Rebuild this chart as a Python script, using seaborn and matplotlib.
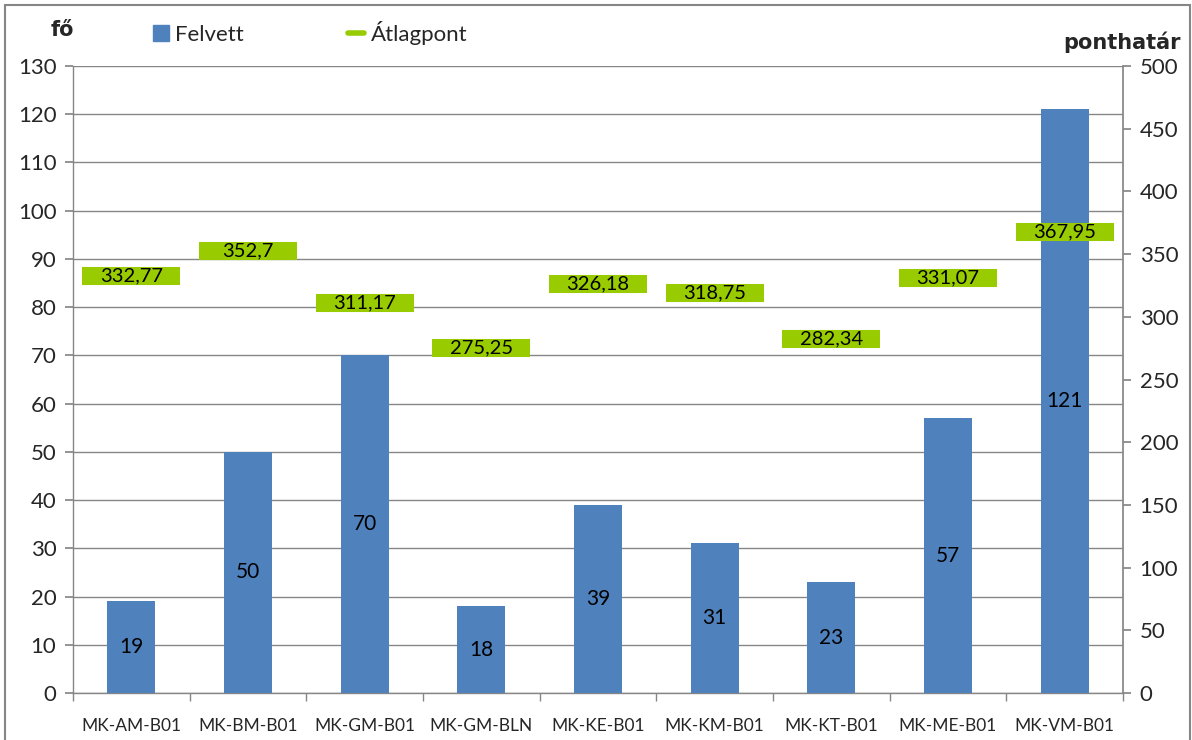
import numpy as np
import pandas as pd
import matplotlib
matplotlib.use("Agg")
import matplotlib.pyplot as plt
import seaborn as sns
from matplotlib.patches import Rectangle
from matplotlib.lines import Line2D
from matplotlib.patches import Patch

categories = ["MK-AM-B01", "MK-BM-B01", "MK-GM-B01", "MK-GM-BLN", "MK-KE-B01",
              "MK-KM-B01", "MK-KT-B01", "MK-ME-B01", "MK-VM-B01"]
felvett = [19, 50, 70, 18, 39, 31, 23, 57, 121]
atlagpont = [332.77, 352.7, 311.17, 275.25, 326.18, 318.75, 282.34, 331.07, 367.95]
atlag_labels = ["332,77", "352,7", "311,17", "275,25", "326,18", "318,75", "282,34", "331,07", "367,95"]
left_ticks = list(range(0, 131, 10))
right_ticks = list(range(0, 501, 50))

sns.set_theme(style="white")
plt.rcParams['font.family'] = ['Lato', 'DejaVu Sans']

BLUE = "#4F81BD"
GREEN = "#99CC00"
GRAY = "#868686"

fig = plt.figure(figsize=(11.92, 7.40), dpi=100)
ax = fig.add_axes([73/1192, 47/740, (1123-73)/1192, (693-66)/740])

df = pd.DataFrame({"cat": categories, "felvett": felvett})
sns.barplot(data=df, x="cat", y="felvett", color=BLUE, width=0.41, saturation=1,
            linewidth=0, ax=ax, zorder=3)
ax.set_xlim(-0.5, len(categories) - 0.5)
ax.set_ylim(0, 130)
ax.set_yticks(left_ticks)
ax.set_xlabel("")
ax.set_ylabel("")
ax.grid(axis="y", color=GRAY, linewidth=1, zorder=0)
ax.set_axisbelow(True)
for s in ["top", "right"]:
    ax.spines[s].set_visible(False)
for s in ["left", "bottom"]:
    ax.spines[s].set_color(GRAY)
    ax.spines[s].set_linewidth(1)
ax.tick_params(axis="y", which="major", length=6, color=GRAY, labelsize=16, pad=6, left=True)
ax.tick_params(axis="x", which="major", length=0, labelsize=12.5, pad=18)
ax.set_xticks(np.arange(-0.5, len(categories), 1.0), minor=True)
ax.tick_params(axis="x", which="minor", length=6, color=GRAY, bottom=True)

for c in ax.containers:
    ax.bar_label(c, labels=[str(v) for v in felvett], label_type="center", fontsize=15, color="black")

ax2 = ax.twinx()
ax2.set_ylim(0, 500)
ax2.set_yticks(right_ticks)
ax2.plot(np.arange(len(categories)), atlagpont, linestyle="none", marker="_",
         markersize=70, markeredgewidth=13, color=GREEN, zorder=4)
for i, (v, lab) in enumerate(zip(atlagpont, atlag_labels)):
    ax2.text(i, v, lab, ha="center", va="center", fontsize=14.5, color="black", zorder=5)
for s in ["top", "left", "bottom"]:
    ax2.spines[s].set_visible(False)
ax2.spines["right"].set_color(GRAY)
ax2.tick_params(axis="y", length=6, color=GRAY, labelsize=16, pad=6, right=True)
ax2.grid(False)

fig.text(62/1192, 1 - 30/740, "fő", ha="center", va="center", fontsize=15, fontweight="bold",
         family=["DejaVu Sans"])
fig.text(1181/1192, 1 - 42/740, "ponthatár", ha="right", va="center", fontsize=15, fontweight="bold",
         family=["DejaVu Sans"])

handles = [Patch(facecolor=BLUE, edgecolor=BLUE),
           Line2D([0], [0], color=GREEN, linewidth=4)]
fig.legend(handles, ["Felvett", "Átlagpont"], loc="center left", bbox_to_anchor=(133/1192, 1 - 33/740),
           ncol=2, frameon=False, fontsize=16, handlelength=0.7, handletextpad=0.3,
           columnspacing=4.7, handleheight=0.7)

fig.add_artist(Rectangle((5/1192, -0.01), 1185/1192, 1 - 5/740 + 0.01, transform=fig.transFigure,
                         fill=False, edgecolor=GRAY, linewidth=1.5))

fig.savefig("out.png", dpi=100)
